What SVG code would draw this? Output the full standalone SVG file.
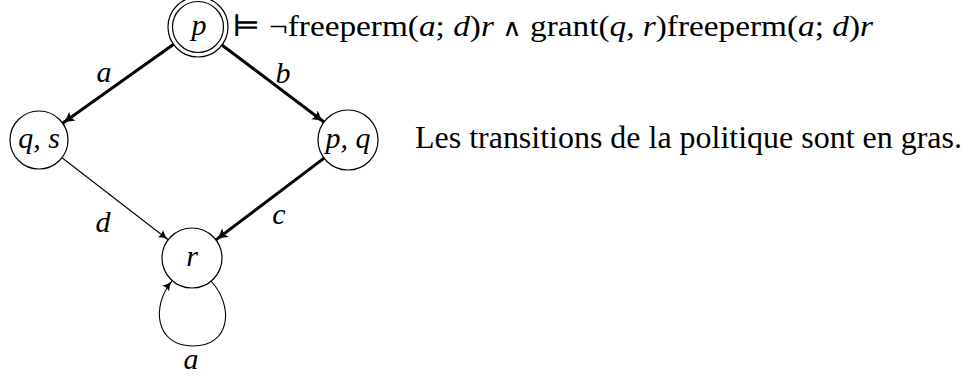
<svg xmlns="http://www.w3.org/2000/svg" width="972" height="380" viewBox="0 0 972 380">
<style>
  text { font-family: "Liberation Serif", "DejaVu Serif", serif; fill: #000; }
  .lbl { font-size: 30px; font-style: italic; text-anchor: middle; }
  .node { fill: #fff; stroke: #000; stroke-width: 1.2; }
  .bold { fill: none; stroke: #000; stroke-width: 3; }
  .thin { fill: none; stroke: #000; stroke-width: 1.1; }
  .i { font-style: italic; }
  .op { font-family: "DejaVu Serif", serif; font-size: 24px; }
</style>
<defs>
  <marker id="ab" markerUnits="userSpaceOnUse" markerWidth="16" markerHeight="14" refX="13" refY="7" orient="auto">
    <path d="M1,1.5 Q6,5.5 13,7 Q6,8.5 1,12.5 Q4,7 1,1.5 Z" fill="#000"/>
  </marker>
  <marker id="at" markerUnits="userSpaceOnUse" markerWidth="14" markerHeight="12" refX="11" refY="6" orient="auto">
    <path d="M1,1.5 Q5,5 11,6 Q5,7 1,10.5 Q3.5,6 1,1.5 Z" fill="#000"/>
  </marker>
</defs>
<g id="connectors">
  <path id="e-p-qs" class="bold" d="M174.4,43.8 L62.6,123.2" marker-end="url(#ab)"/>
  <path id="e-p-pq" class="bold" d="M221.2,44.5 L324,122" marker-end="url(#ab)"/>
  <path id="e-qs-r" class="thin" d="M62,157.7 L168.2,239.7" marker-end="url(#at)"/>
  <path id="e-pq-r" class="bold" d="M324.1,158.1 L215.9,239.9" marker-end="url(#ab)"/>
  <path id="e-r-r" class="thin" d="M211,281 C234,306 231,346 193,346 C155,346 151,306 172,281" marker-end="url(#at)"/>
  <text class="lbl" x="104" y="82">a</text>
  <text class="lbl" x="283" y="83">b</text>
  <text class="lbl" x="103" y="232">d</text>
  <text class="lbl" x="279" y="224">c</text>
  <text class="lbl" x="191" y="369">a</text>
</g>
<g id="node-p">
  <circle class="node" cx="198" cy="27" r="30"/>
  <circle class="node" cx="198" cy="27" r="25.5"/>
  <text class="lbl" x="199" y="35">p</text>
</g>
<g id="node-qs">
  <circle class="node" cx="39" cy="140" r="29"/>
  <text class="lbl" x="39" y="148">q, s</text>
</g>
<g id="node-pq">
  <circle class="node" cx="348" cy="140" r="30"/>
  <text class="lbl" x="348" y="148">p, q</text>
</g>
<g id="node-r">
  <circle class="node" cx="192" cy="258" r="30"/>
  <text class="lbl" x="192" y="266">r</text>
</g>
<g id="formula">
  <text x="232" y="36" font-size="30" textLength="641" lengthAdjust="spacingAndGlyphs">⊨ ¬freeperm(<tspan class="i">a</tspan>; <tspan class="i">d</tspan>)<tspan class="i">r</tspan> <tspan class="op">∧</tspan> grant(<tspan class="i">q</tspan>, <tspan class="i">r</tspan>)freeperm(<tspan class="i">a</tspan>; <tspan class="i">d</tspan>)<tspan class="i">r</tspan></text>
</g>
<g id="caption">
  <text x="415" y="148" font-size="32" textLength="547" lengthAdjust="spacingAndGlyphs">Les transitions de la politique sont en gras.</text>
</g>
</svg>
